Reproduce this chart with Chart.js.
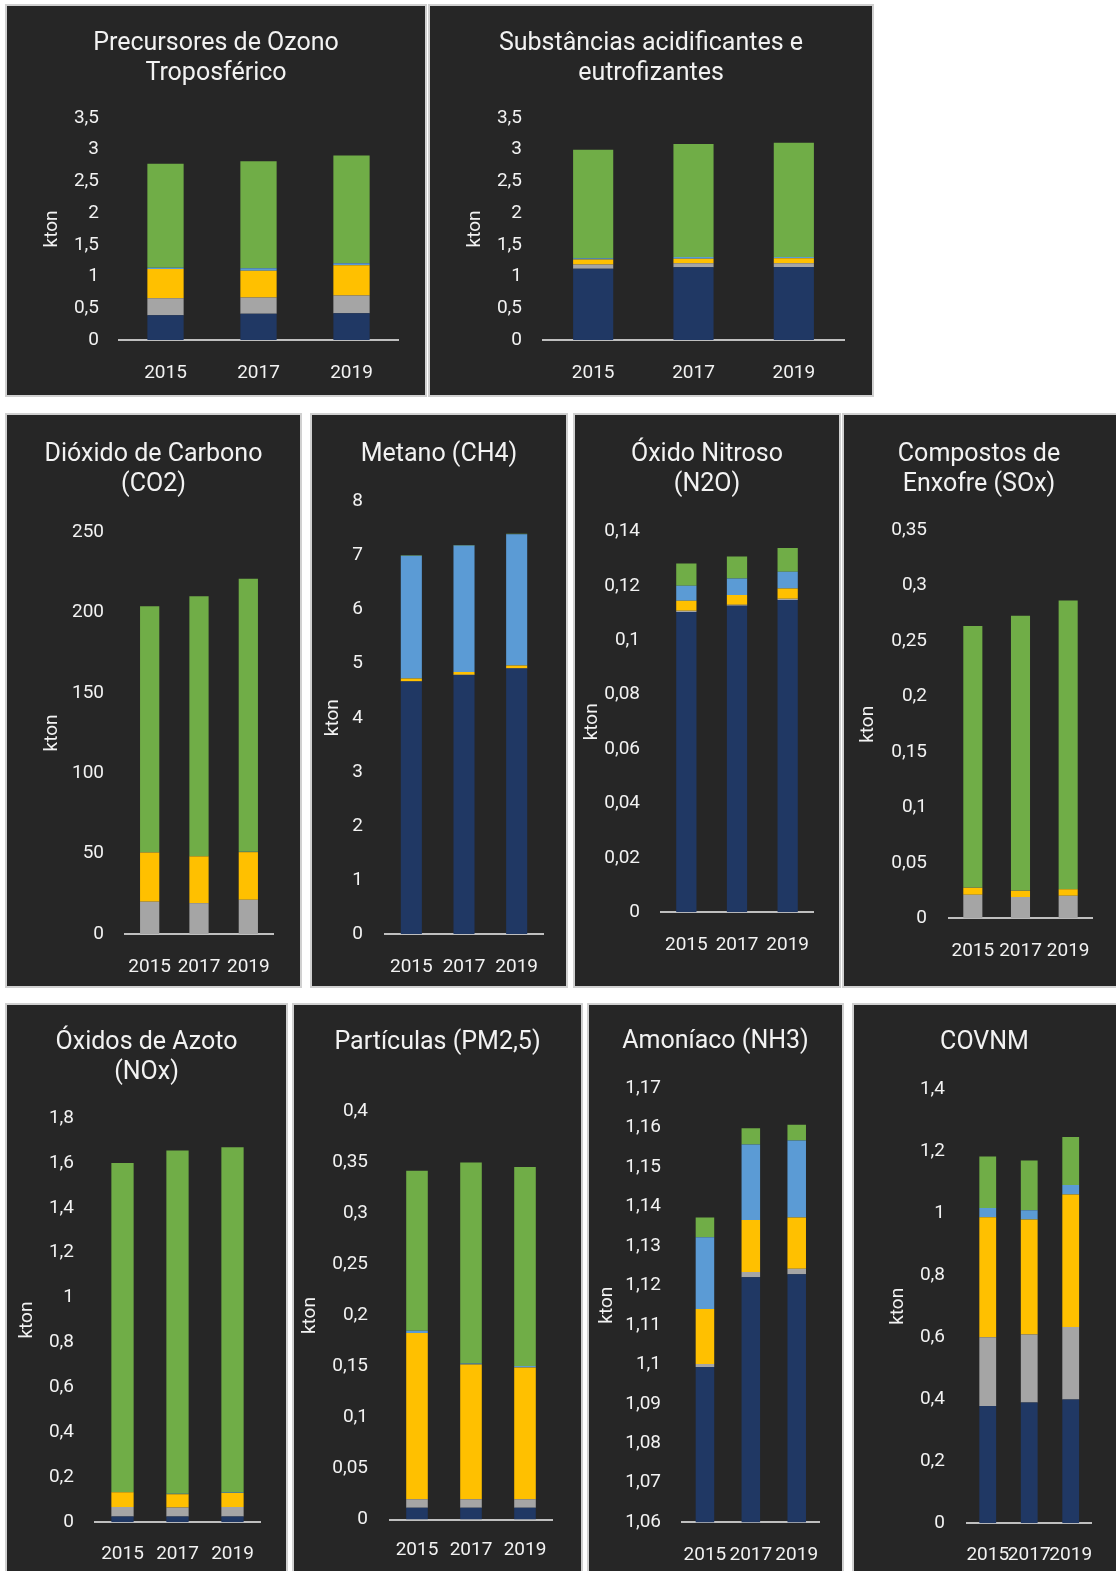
<!DOCTYPE html>
<html>
<head>
<meta charset="utf-8">
<script src="https://cdn.jsdelivr.net/npm/chart.js@4.4.1/dist/chart.umd.min.js"></script>
<style>
  body { margin: 0; background: #ffffff; width: 1116px; height: 1571px; overflow: hidden; position: relative; }
  .panel { position: absolute; box-sizing: border-box; background: #262626; border: 2px solid #d0d0d0; }
  canvas { position: absolute; }
</style>
</head>
<body>
<div class="panel" style="left:5px;top:4px;width:422px;height:393px"></div>
<div class="panel" style="left:428px;top:4px;width:446px;height:393px"></div>
<div class="panel" style="left:5px;top:413px;width:297px;height:575px"></div>
<div class="panel" style="left:310px;top:413px;width:258px;height:575px"></div>
<div class="panel" style="left:573px;top:413px;width:268px;height:575px"></div>
<div class="panel" style="left:842px;top:413px;width:276px;height:575px"></div>
<div class="panel" style="left:5px;top:1003px;width:283px;height:600px"></div>
<div class="panel" style="left:292px;top:1003px;width:291px;height:600px"></div>
<div class="panel" style="left:587px;top:1003px;width:257px;height:600px"></div>
<div class="panel" style="left:852px;top:1003px;width:266px;height:600px"></div>

<canvas id="cOzono" width="420" height="391" style="left:6px;top:5px"></canvas>
<canvas id="cAcid" width="444" height="391" style="left:429px;top:5px"></canvas>
<canvas id="cCO2" width="295" height="573" style="left:6px;top:414px"></canvas>
<canvas id="cCH4" width="256" height="573" style="left:311px;top:414px"></canvas>
<canvas id="cN2O" width="266" height="573" style="left:574px;top:414px"></canvas>
<canvas id="cSOx" width="272" height="573" style="left:843px;top:414px"></canvas>
<canvas id="cNOx" width="281" height="567" style="left:6px;top:1004px"></canvas>
<canvas id="cPM" width="289" height="567" style="left:293px;top:1004px"></canvas>
<canvas id="cNH3" width="255" height="567" style="left:588px;top:1004px"></canvas>
<canvas id="cCOV" width="263" height="567" style="left:853px;top:1004px"></canvas>

<script>
// anos (categorias)
const years = ['2015', '2017', '2019'];

// séries empilhadas, de baixo para cima: azul escuro, cinza, amarelo, azul claro, verde
const seriesNames = ['Série 1', 'Série 2', 'Série 3', 'Série 4', 'Série 5'];
const seriesColors = ['#203864', '#a5a5a5', '#ffc000', '#5b9bd5', '#70ad47'];

const ozono = [
  [0.39, 0.415, 0.42],
  [0.27, 0.255, 0.28],
  [0.46, 0.42, 0.48],
  [0.02, 0.04, 0.03],
  [1.64, 1.69, 1.70]
];
const acidif = [
  [1.125, 1.145, 1.15],
  [0.065, 0.065, 0.06],
  [0.08, 0.07, 0.08],
  [0.02, 0.03, 0.02],
  [1.71, 1.78, 1.80]
];
const co2 = [
  [0, 0, 0],
  [20.1, 19.2, 21.3],
  [30.6, 29.1, 29.6],
  [0.2, 0.2, 0.2],
  [152.9, 161.5, 169.8]
];
const ch4 = [
  [4.67, 4.79, 4.91],
  [0.005, 0.005, 0.005],
  [0.05, 0.05, 0.05],
  [2.27, 2.34, 2.43],
  [0.01, 0.01, 0.01]
];
const n2o = [
  [0.1104, 0.1127, 0.1148],
  [0.0004, 0.0003, 0.0004],
  [0.0037, 0.0036, 0.0038],
  [0.0055, 0.0061, 0.0062],
  [0.0082, 0.0081, 0.0087]
];
const sox = [
  [0, 0, 0],
  [0.0214, 0.0193, 0.0204],
  [0.0062, 0.0056, 0.0059],
  [0.0003, 0.0003, 0.0003],
  [0.2357, 0.2478, 0.2602]
];
const nox = [
  [0.025, 0.025, 0.025],
  [0.043, 0.04, 0.043],
  [0.065, 0.06, 0.062],
  [0.002, 0.002, 0.002],
  [1.465, 1.528, 1.538]
];
const pm25 = [
  [0.0115, 0.0115, 0.0115],
  [0.0085, 0.0085, 0.0085],
  [0.163, 0.132, 0.129],
  [0.002, 0.001, 0.0015],
  [0.157, 0.197, 0.195]
];
const nh3 = [
  [1.0993, 1.1221, 1.1228],
  [0.0008, 0.0013, 0.0014],
  [0.0139, 0.0132, 0.013],
  [0.0182, 0.0191, 0.0195],
  [0.005, 0.0041, 0.004]
];
const covnm = [
  [0.378, 0.39, 0.399],
  [0.222, 0.219, 0.234],
  [0.387, 0.371, 0.428],
  [0.030, 0.030, 0.030],
  [0.166, 0.160, 0.155]
];

const textColor = '#f2f2f2';
const fontFamily = 'Roboto, "Noto Sans", sans-serif';
const tickSize = 19;

function fmt(v) {
  return String(Math.round(v * 10000) / 10000).replace('.', ',');
}

// box = [caLeft, caRight, caTop, caBottom, titleMid, tickPad, ktonMid, xLabelOffset, barPct]
function stackChart(canvasID, title, data, yMin, yMax, yStep, box) {
  const canvas = document.getElementById(canvasID);
  const W = canvas.width, H = canvas.height;
  const [caLeft, caRight, caTop, caBottom, titleMid, tickPad, ktonMid, xLab, barPct] = box;
  const lines = Array.isArray(title) ? title.length : 1;
  const titleLH = 30;
  const tickLH = tickSize * 1.2;
  const tTop = titleMid - titleLH / 2;
  const side = W - caRight;   // same padding both sides so the title stays centred

  const datasets = data.map(function (vals, i) {
    return {
      label: seriesNames[i],
      data: vals,
      backgroundColor: seriesColors[i],
      borderWidth: 0,
      barPercentage: barPct,
      categoryPercentage: 1
    };
  });

  return new Chart(canvas.getContext('2d'), {
    type: 'bar',
    data: { labels: years, datasets: datasets },
    options: {
      responsive: false,
      animation: false,
      layout: { padding: { left: side, right: side, top: 0, bottom: 0 } },
      plugins: {
        legend: { display: false },
        tooltip: { enabled: false },
        title: {
          display: true,
          text: title,
          color: textColor,
          font: { family: fontFamily, size: 25, weight: 'normal', lineHeight: 1.2 },
          padding: { top: tTop, bottom: caTop - tTop - lines * titleLH }
        }
      },
      scales: {
        x: {
          stacked: true,
          grid: { display: false, drawTicks: false, tickLength: 0 },
          border: { display: true, color: '#bfbfbf', width: 2 },
          ticks: {
            color: textColor,
            font: { family: fontFamily, size: tickSize },
            padding: xLab - tickLH / 2,
            maxRotation: 0,
            autoSkip: false
          },
          afterFit: function (s) { s.height = H - caBottom; }
        },
        y: {
          stacked: true,
          min: yMin,
          max: yMax,
          grid: { display: false, drawTicks: false, tickLength: 0 },
          border: { display: false },
          ticks: {
            stepSize: yStep,
            color: textColor,
            font: { family: fontFamily, size: tickSize },
            padding: tickPad,
            autoSkip: false,
            callback: function (v) { return fmt(v); }
          },
          title: {
            display: true,
            text: 'kton',
            color: textColor,
            font: { family: fontFamily, size: tickSize },
            padding: { top: ktonMid - side - tickLH / 2, bottom: 0 }
          },
          afterFit: function (s) { s.width = caLeft - side; }
        }
      }
    }
  });
}

stackChart('cOzono', ['Precursores de Ozono', 'Troposférico'], ozono, 0, 3.5, 0.5,
  [113, 392, 113, 335, 39, 20, 46, 33, 0.39]);
stackChart('cAcid', ['Substâncias acidificantes e', 'eutrofizantes'], acidif, 0, 3.5, 0.5,
  [114, 415, 113, 335, 39, 21, 46, 33, 0.4]);
stackChart('cCO2', ['Dióxido de Carbono', '(CO2)'], co2, 0, 250, 50,
  [119, 267, 118, 520, 41, 21, 46, 33, 0.39]);
stackChart('cCH4', 'Metano (CH4)', ch4, 0, 8, 1,
  [74, 232, 87.5, 520, 41, 22, 22, 33, 0.4]);
stackChart('cN2O', ['Óxido Nitroso', '(N2O)'], n2o, 0, 0.14, 0.02,
  [87, 239, 117.4, 498.3, 41, 21, 18, 32.5, 0.4]);
stackChart('cSOx', ['Compostos de', 'Enxofre (SOx)'], sox, 0, 0.35, 0.05,
  [106, 249, 116.3, 504.4, 41, 22, 25, 33, 0.4]);
stackChart('cNOx', ['Óxidos de Azoto', '(NOx)'], nox, 0, 1.8, 0.2,
  [89, 254, 114, 518.2, 39, 21, 21, 32, 0.405]);
stackChart('cPM', 'Partículas (PM2,5)', pm25, 0, 0.4, 0.05,
  [97, 259, 107.5, 515.6, 39, 22, 17, 30.5, 0.4]);
stackChart('cNH3', 'Amoníaco (NH3)', nh3, 1.06, 1.17, 0.01,
  [94, 235, 84.1, 518.2, 38, 21, 19, 33, 0.404]);
stackChart('cCOV', 'COVNM', covnm, 0, 1.4, 0.2,
  [114, 240, 85.3, 519.3, 39, 22, 45, 31.5, 0.405]);
</script>
</body>
</html>
